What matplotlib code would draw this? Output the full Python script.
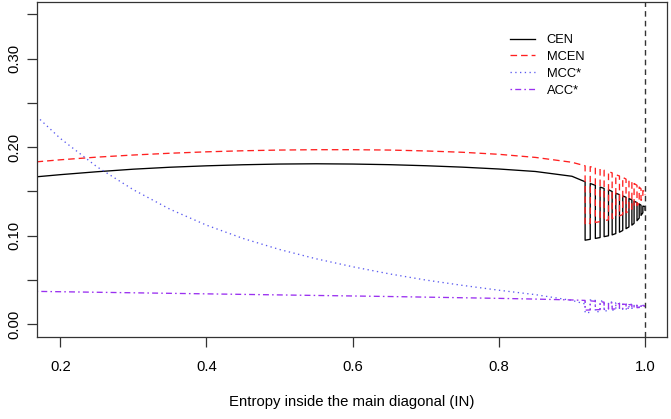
import matplotlib
matplotlib.use("Agg")
import matplotlib.pyplot as plt
from matplotlib.lines import Line2D

plt.rcParams['font.family'] = ['Liberation Sans', 'DejaVu Sans']

# ---- smooth part (IN from left edge to ~0.918) ----
x_smooth = [0.1676, 0.2, 0.25, 0.3, 0.35, 0.4, 0.45, 0.5, 0.55, 0.6, 0.65,
            0.7, 0.75, 0.8, 0.85, 0.9, 0.918]
cen_smooth = [0.1666, 0.1690, 0.1723, 0.1752, 0.1774, 0.1790, 0.1802, 0.1810,
              0.1813, 0.1810, 0.1803, 0.1791, 0.1775, 0.1754, 0.1726, 0.1672, 0.1610]
mcen_smooth = [0.1835, 0.1858, 0.1888, 0.1912, 0.1932, 0.1948, 0.1960, 0.1968,
               0.1972, 0.1972, 0.1968, 0.1958, 0.1943, 0.1920, 0.1885, 0.1830, 0.1790]
mcc_smooth = [0.2350, 0.2100, 0.1780, 0.1520, 0.1300, 0.1120, 0.0970, 0.0845,
              0.0740, 0.0650, 0.0570, 0.0500, 0.0440, 0.0385, 0.0335, 0.0270, 0.0230]
acc_smooth = [0.0372, 0.0368, 0.0362, 0.0356, 0.0350, 0.0344, 0.0338, 0.0332,
              0.0326, 0.0320, 0.0314, 0.0307, 0.0300, 0.0293, 0.0285, 0.0275, 0.0270]

# ---- oscillating part near IN = 1 ----
x_teeth = [0.918, 0.925, 0.932, 0.9385, 0.944, 0.950, 0.955, 0.960, 0.965,
           0.9695, 0.974, 0.978, 0.982, 0.985, 0.989, 0.992, 0.9945, 0.997, 1.0]
cen_hi = [0.161, 0.159, 0.157, 0.155, 0.1535, 0.152, 0.150, 0.148, 0.1465,
          0.145, 0.1435, 0.142, 0.1405, 0.139, 0.1375, 0.136, 0.1345, 0.1335, 0.133]
cen_lo = [0.095, 0.096, 0.097, 0.098, 0.099, 0.100, 0.101, 0.1025, 0.104,
          0.106, 0.108, 0.110, 0.112, 0.114, 0.117, 0.120, 0.123, 0.126, 0.129]
mcen_hi = [0.179, 0.178, 0.177, 0.1755, 0.174, 0.1725, 0.171, 0.169, 0.1675,
           0.166, 0.164, 0.1625, 0.161, 0.159, 0.157, 0.155, 0.153, 0.151, 0.150]
mcen_lo = [0.113, 0.114, 0.115, 0.116, 0.117, 0.118, 0.1195, 0.121, 0.1225,
           0.124, 0.126, 0.128, 0.130, 0.132, 0.134, 0.137, 0.140, 0.143, 0.146]
mcc_hi = [0.026, 0.0275, 0.027, 0.0265, 0.026, 0.0255, 0.025, 0.0245, 0.024,
          0.0235, 0.023, 0.0228, 0.0225, 0.0222, 0.022, 0.0218, 0.0216, 0.0214, 0.0212]
mcc_lo = [0.013, 0.0135, 0.014, 0.0145, 0.015, 0.0155, 0.016, 0.0163, 0.0166,
          0.017, 0.0173, 0.0176, 0.018, 0.0183, 0.0186, 0.019, 0.0194, 0.0198, 0.020]
acc_hi = [0.027, 0.0265, 0.026, 0.0255, 0.025, 0.0245, 0.024, 0.0236, 0.0232,
          0.0228, 0.0225, 0.0222, 0.022, 0.0218, 0.0216, 0.0214, 0.0212, 0.021, 0.0208]
acc_lo = [0.016, 0.0162, 0.0164, 0.0166, 0.0168, 0.017, 0.0172, 0.0174, 0.0176,
          0.0178, 0.018, 0.0182, 0.0184, 0.0186, 0.0188, 0.019, 0.0192, 0.0195, 0.0198]

labels = ["CEN", "MCEN", "MCC*", "ACC*"]
colors = ["black", "#FF2020", "#5A5AF0", "#9A30F0"]
styles = ["-", (0, (5, 3)), (0, (1, 2.6)), (0, (1.2, 2.4, 4.5, 2.4))]


def build(xs, ys, xt, hi, lo):
    px, py = list(xs), list(ys)
    for k in range(len(xt)):
        if k % 2 == 0:
            px += [xt[k], xt[k]]
            py += [hi[k], lo[k]]
        else:
            px += [xt[k], xt[k]]
            py += [lo[k], hi[k]]
    return px, py


series = [
    (cen_smooth, cen_hi, cen_lo),
    (mcen_smooth, mcen_hi, mcen_lo),
    (mcc_smooth, mcc_hi, mcc_lo),
    (acc_smooth, acc_hi, acc_lo),
]

fig = plt.figure(figsize=(6.71, 4.19), dpi=100)
ax = fig.add_axes([0.0545, 0.1964, 0.9395, 0.7988])

for (sm, hi, lo), c, ls in zip(series, colors, styles):
    px, py = build(x_smooth, sm, x_teeth, hi, lo)
    ax.plot(px, py, color=c, linestyle=ls, lw=0.95)

ax.axvline(1.0, color="#333333", linestyle=(0, (4, 3)), lw=1.0)

ax.set_xlim(0.1676, 1.030)
ax.set_ylim(-0.014, 0.364)

xt = [0.2, 0.4, 0.6, 0.8, 1.0]
ax.set_xticks(xt)
ax.set_xticklabels(["0.2", "0.4", "0.6", "0.8", "1.0"])
yt = [0.0, 0.05, 0.10, 0.15, 0.20, 0.25, 0.30, 0.35]
ax.set_yticks(yt)
ax.set_yticklabels(["0.00", "", "0.10", "", "0.20", "", "0.30", ""],
                   rotation=90, va="center")
ax.tick_params(axis="both", length=7, width=0.9, color="#333333",
               labelsize=10.7, labelcolor="black")
ax.tick_params(axis="x", pad=10)
ax.tick_params(axis="y", pad=4)
for s in ax.spines.values():
    s.set_linewidth(0.9)
    s.set_color("#333333")

ax.set_xlabel("Entropy inside the main diagonal (IN)", fontsize=10.7, labelpad=15)

handles = [Line2D([0], [0], color=c, linestyle=ls, lw=0.95) for c, ls in zip(colors, styles)]
fig.legend(handles, labels, loc="upper left", bbox_to_anchor=(510 / 671, 1 - 34 / 419),
           frameon=False, fontsize=9.3, handlelength=1.9, handletextpad=0.95,
           labelspacing=0.38, borderpad=0, borderaxespad=0)

fig.savefig("out.png", dpi=100)
